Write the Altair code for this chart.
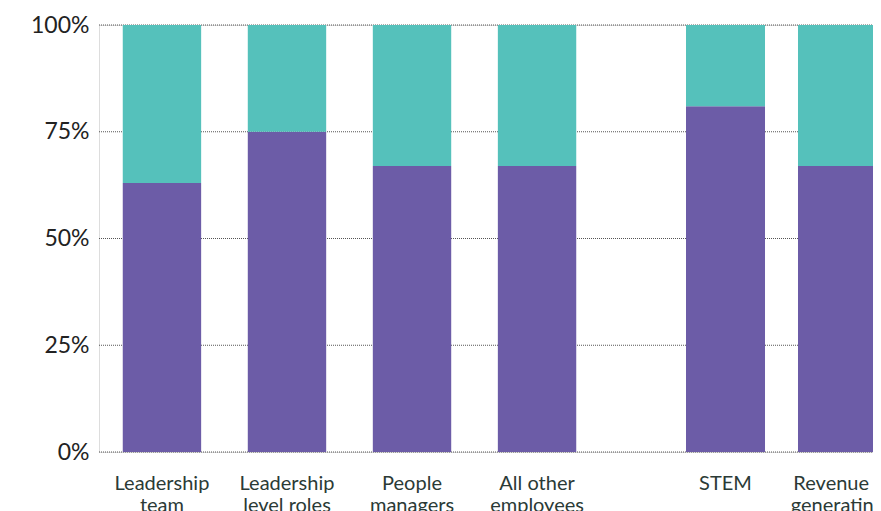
import altair as alt
import pandas as pd

categories = ["Leadership|team", "Leadership|level roles", "People|managers",
              "All other|employees", "STEM", "Revenue -|generating"]
panel = ["left", "left", "left", "left", "right", "right"]
purple_vals = [63, 75, 67, 67, 81, 67]
teal_vals = [37, 25, 33, 33, 19, 33]
series = ["Purple", "Teal"]
colors = ["#6c5ca7", "#55c1bb"]
y_ticks = [0, 25, 50, 75, 100]

rows = []
for c, p, a, b in zip(categories, panel, purple_vals, teal_vals):
    rows.append({"category": c, "panel": p, "series": series[0], "value": a, "order": 0})
    rows.append({"category": c, "panel": p, "series": series[1], "value": b, "order": 1})
df = pd.DataFrame(rows)
grid_df = pd.DataFrame({"value": y_ticks})

FONT = "Lato"
PLOT_W = 774
PLOT_H = 427
color_scale = alt.Scale(domain=series, range=colors)
y_scale = alt.Scale(domain=[0, 100], nice=False)

y_axis = alt.Axis(
    values=y_ticks, labelExpr="datum.value + '%'", title=None,
    grid=False, domain=False, ticks=False, labelFont=FONT,
    labelFontSize=23, labelColor="#222222", labelPadding=10,
)

grid = alt.Chart(grid_df).mark_rule(
    color="#555555", strokeDash=[1, 1], strokeWidth=1
).encode(
    y=alt.Y("value:Q", scale=y_scale, axis=y_axis),
    x=alt.value(0), x2=alt.value(PLOT_W),
)


def group_layer(name, rng, pad_inner, pad_outer):
    cats = [c for c, p in zip(categories, panel) if p == name]
    return alt.Chart(df).transform_filter(
        alt.datum.panel == name
    ).mark_bar().encode(
        x=alt.X("category:N", sort=cats,
                scale=alt.Scale(range=rng, paddingInner=pad_inner, paddingOuter=pad_outer),
                axis=alt.Axis(title=None, orient="bottom", labelAngle=0,
                              domain=False, ticks=False,
                              labelExpr="split(datum.label, '|')",
                              labelFont=FONT, labelFontSize=20, labelColor="#2b3a36",
                              labelPadding=21, labelLineHeight=22, labelLimit=300,
                              labelOverlap=False)),
        y=alt.Y("value:Q", stack="zero", scale=y_scale, axis=y_axis),
        color=alt.Color("series:N", scale=color_scale, legend=None),
        order=alt.Order("order:Q", sort="ascending"),
    )


left = group_layer("left", [0, 501], 0.373, 0.19)
right = group_layer("right", [501, 864], 0.2946, 0.768)

chart = alt.layer(grid, left, right).resolve_scale(x="independent").properties(
    width=PLOT_W, height=PLOT_H,
    autosize=alt.AutoSizeParams(type="none"),
    padding={"top": 17, "left": 91, "right": 0, "bottom": 59},
).configure_view(strokeWidth=0).configure(background="white")

chart.save("out.html", embed_options={"renderer": "svg", "actions": False})
